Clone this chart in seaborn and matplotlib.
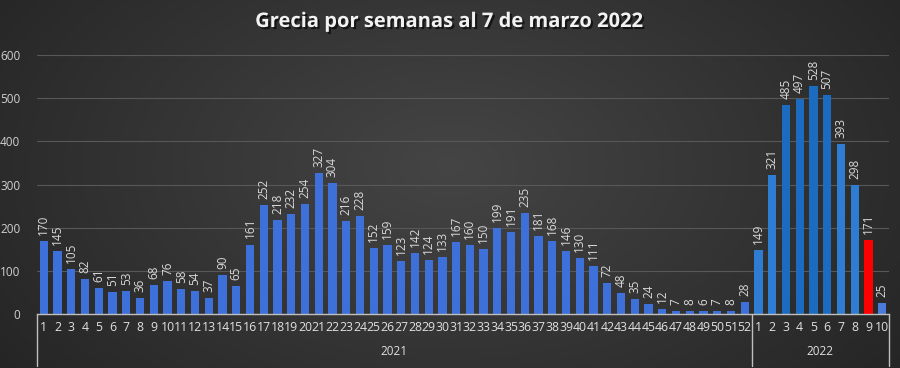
import numpy as np
import pandas as pd
import matplotlib
matplotlib.use("Agg")
import matplotlib.pyplot as plt
import matplotlib.patheffects as pe
import seaborn as sns

weeks_2021 = list(range(1, 53))
values_2021 = [170, 145, 105, 82, 61, 51, 53, 36, 68, 76, 58, 54, 37, 90, 65, 161,
               252, 218, 232, 254, 327, 304, 216, 228, 152, 159, 123, 142, 124, 133,
               167, 160, 150, 199, 191, 235, 181, 168, 146, 130, 111, 72, 48, 35, 24,
               12, 7, 8, 6, 7, 8, 28]
weeks_2022 = list(range(1, 11))
values_2022 = [149, 321, 485, 497, 528, 507, 393, 298, 171, 25]
years = ["2021", "2022"]
title = "Grecia por semanas al 7 de marzo 2022"

colors_2021 = ["#3d70d8"] * 52
colors_2022 = ["#2f7dd2", "#2f7dd2", "#1b6cc0", "#1b6cc0", "#1b6cc0", "#1b6cc0",
               "#2f7dd2", "#2f7dd2", "#ff0000", "#4a7bdc"]

labels = [str(w) for w in weeks_2021] + [str(w) for w in weeks_2022]
values = values_2021 + values_2022
colors = colors_2021 + colors_2022
df = pd.DataFrame({"idx": list(range(len(values))), "value": values})

sns.set_theme(style="dark")
plt.rcParams['font.family'] = ['Open Sans', 'DejaVu Sans']

W, H = 900, 368
fig = plt.figure(figsize=(W / 100, H / 100), dpi=100)

# radial gradient background
bg = fig.add_axes([0, 0, 1, 1], zorder=-10)
yy, xx = np.mgrid[0:H, 0:W]
r = np.sqrt(((xx - W * 0.5) / (W * 0.6)) ** 2 + ((yy - H * 0.45) / (H * 0.9)) ** 2)
g = np.clip(0.27 - 0.12 * r, 0.13, 0.3)
img = np.dstack([g, g, g])
bg.imshow(img, aspect="auto", extent=[0, 1, 0, 1])
bg.set_axis_off()

left, right = 37 / W, 889 / W
bottom, top = 1 - 314 / H, 1 - 55 / H
ax = fig.add_axes([left, bottom, right - left, top - bottom])
ax.patch.set_alpha(0)

sns.barplot(data=df, x="idx", y="value", hue="idx", palette=colors, legend=False,
            width=0.6, saturation=1, linewidth=0, edgecolor="none", ax=ax)

ax.set_xlim(-0.5, len(values) - 0.5)
ax.set_ylim(0, 600)
ax.set_yticks(range(0, 601, 100))
ax.set_yticklabels([str(v) for v in range(0, 601, 100)], color="#d0d0d0", fontsize=8.5)
ax.set_xticks(range(len(values)))
ax.set_xticklabels(labels, color="#e0e0e0", fontsize=8.8)
ax.tick_params(axis="x", length=0, pad=5)
ax.tick_params(axis="y", length=0, pad=12)
ax.set_xlabel("")
ax.set_ylabel("")
ax.grid(axis="y", color="#585858", linewidth=0.8)
ax.grid(axis="x", visible=False)
ax.set_axisbelow(True)
for s in ["top", "right", "left"]:
    ax.spines[s].set_visible(False)
ax.spines["bottom"].set_color("#bfbfbf")
ax.spines["bottom"].set_linewidth(1.0)

for i, v in enumerate(values):
    ax.text(i, v + 14, str(v), rotation=90, ha="center", va="bottom",
            color="#d9d9d9", fontsize=8.5, clip_on=False)

# group separators and year labels
sep_color = "#bfbfbf"
n1 = len(values_2021)
for xpos in [-0.5, n1 - 0.5, len(values) - 0.5]:
    ax.plot([xpos, xpos], [0, -0.2], transform=ax.get_xaxis_transform(),
            color=sep_color, linewidth=1.0, clip_on=False)
ax.text((n1 - 1) / 2, -0.145, years[0], transform=ax.get_xaxis_transform(),
        ha="center", va="center", color="#e0e0e0", fontsize=8.5)
ax.text(n1 + (len(values_2022) - 1) / 2, -0.145, years[1], transform=ax.get_xaxis_transform(),
        ha="center", va="center", color="#e0e0e0", fontsize=8.5)

fig.text(449 / W, 1 - 22 / H, title, ha="center", va="center", color="#f2f2f2",
         fontsize=14.5, fontweight="bold",
         path_effects=[pe.withSimplePatchShadow(offset=(1.5, -1.5), shadow_rgbFace="black", alpha=0.6)])

fig.savefig("out.png", dpi=100)
